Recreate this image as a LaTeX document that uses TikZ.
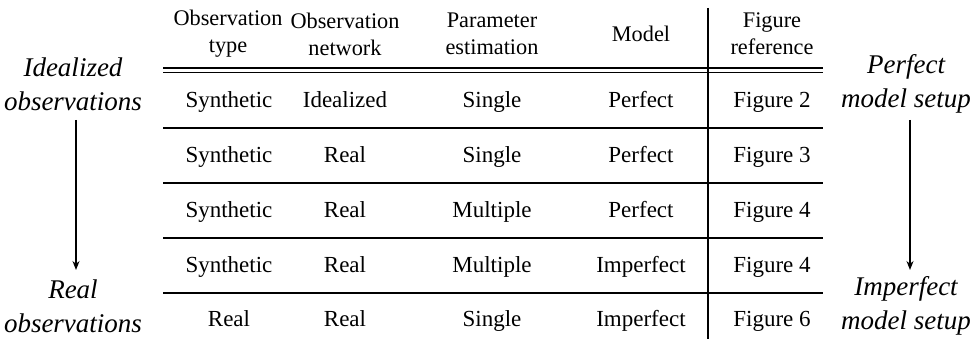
\documentclass[tikz,border=0pt]{standalone}
\usepackage{fontspec}
\setmainfont{Liberation Serif}
\usetikzlibrary{arrows.meta}
\begin{document}
\begin{tikzpicture}[x=1pt,y=-1pt,
  cell/.style={inner sep=0pt,anchor=base,font=\fontsize{23}{27}\selectfont},
  head/.style={inner sep=0pt,align=center,font=\fontsize{22.3}{27}\selectfont},
  side/.style={inner sep=0pt,align=center,font=\fontsize{27}{34}\selectfont\itshape},
  rule/.style={line width=1.3pt},
  flow/.style={line width=1.3pt,-{Stealth[length=9pt,width=7pt]}}]
\useasboundingbox (0,0) rectangle (977,339);
% headers
\node[head] (h1) at (228,34) {Observation\\type};
\node[head] (h2) at (345,34) {Observation\\network};
\node[head] (h3) at (492,34) {Parameter\\estimation};
\node[head] (h4) at (641,34) {Model};
\node[head] (h5) at (772,34) {Figure\\reference};
% rules
\coordinate (tl1) at (163,68); \coordinate (tr1) at (823,68);
\coordinate (tl2) at (163,72.5); \coordinate (tr2) at (823,72.5);
\draw[rule] (tl1) -- (tr1);
\draw[rule] (tl2) -- (tr2);
\coordinate (s1l) at (163,128); \coordinate (s1r) at (823,128);
\coordinate (s2l) at (163,183); \coordinate (s2r) at (823,183);
\coordinate (s3l) at (163,238); \coordinate (s3r) at (823,238);
\coordinate (s4l) at (163,293); \coordinate (s4r) at (823,293);
\draw[rule] (s1l) -- (s1r);
\draw[rule] (s2l) -- (s2r);
\draw[rule] (s3l) -- (s3r);
\draw[rule] (s4l) -- (s4r);
\coordinate (vt) at (708,8); \coordinate (vb) at (708,339);
\draw[rule] (vt) -- (vb);
% rows
\node[cell] (a1) at (229,107.5) {Synthetic};
\node[cell] (b1) at (345,107.5) {Idealized};
\node[cell] (c1) at (492,107.5) {Single};
\node[cell] (d1) at (641,107.5) {Perfect};
\node[cell] (e1) at (772,107.5) {Figure 2};
\node[cell] (a2) at (229,162.5) {Synthetic};
\node[cell] (b2) at (345,162.5) {Real};
\node[cell] (c2) at (492,162.5) {Single};
\node[cell] (d2) at (641,162.5) {Perfect};
\node[cell] (e2) at (772,162.5) {Figure 3};
\node[cell] (a3) at (229,217.5) {Synthetic};
\node[cell] (b3) at (345,217.5) {Real};
\node[cell] (c3) at (492,217.5) {Multiple};
\node[cell] (d3) at (641,217.5) {Perfect};
\node[cell] (e3) at (772,217.5) {Figure 4};
\node[cell] (a4) at (229,272.5) {Synthetic};
\node[cell] (b4) at (345,272.5) {Real};
\node[cell] (c4) at (492,272.5) {Multiple};
\node[cell] (d4) at (641,272.5) {Imperfect};
\node[cell] (e4) at (772,272.5) {Figure 4};
\node[cell] (a5) at (229,326) {Real};
\node[cell] (b5) at (345,326) {Real};
\node[cell] (c5) at (492,326) {Single};
\node[cell] (d5) at (641,326) {Imperfect};
\node[cell] (e5) at (772,326) {Figure 6};
% side labels
\node[side] (lt) at (73,84) {Idealized\\observations};
\node[side] (lb) at (73,306) {Real\\observations};
\node[side] (rt) at (906,84) {Perfect\\model setup};
\node[side] (rb) at (906,306) {Imperfect\\model setup};
\coordinate (la) at (76,120); \coordinate (lz) at (76,270);
\coordinate (ra) at (910,120); \coordinate (rz) at (910,270);
\draw[flow] (la) -- (lz);
\draw[flow] (ra) -- (rz);
\end{tikzpicture}
\end{document}
